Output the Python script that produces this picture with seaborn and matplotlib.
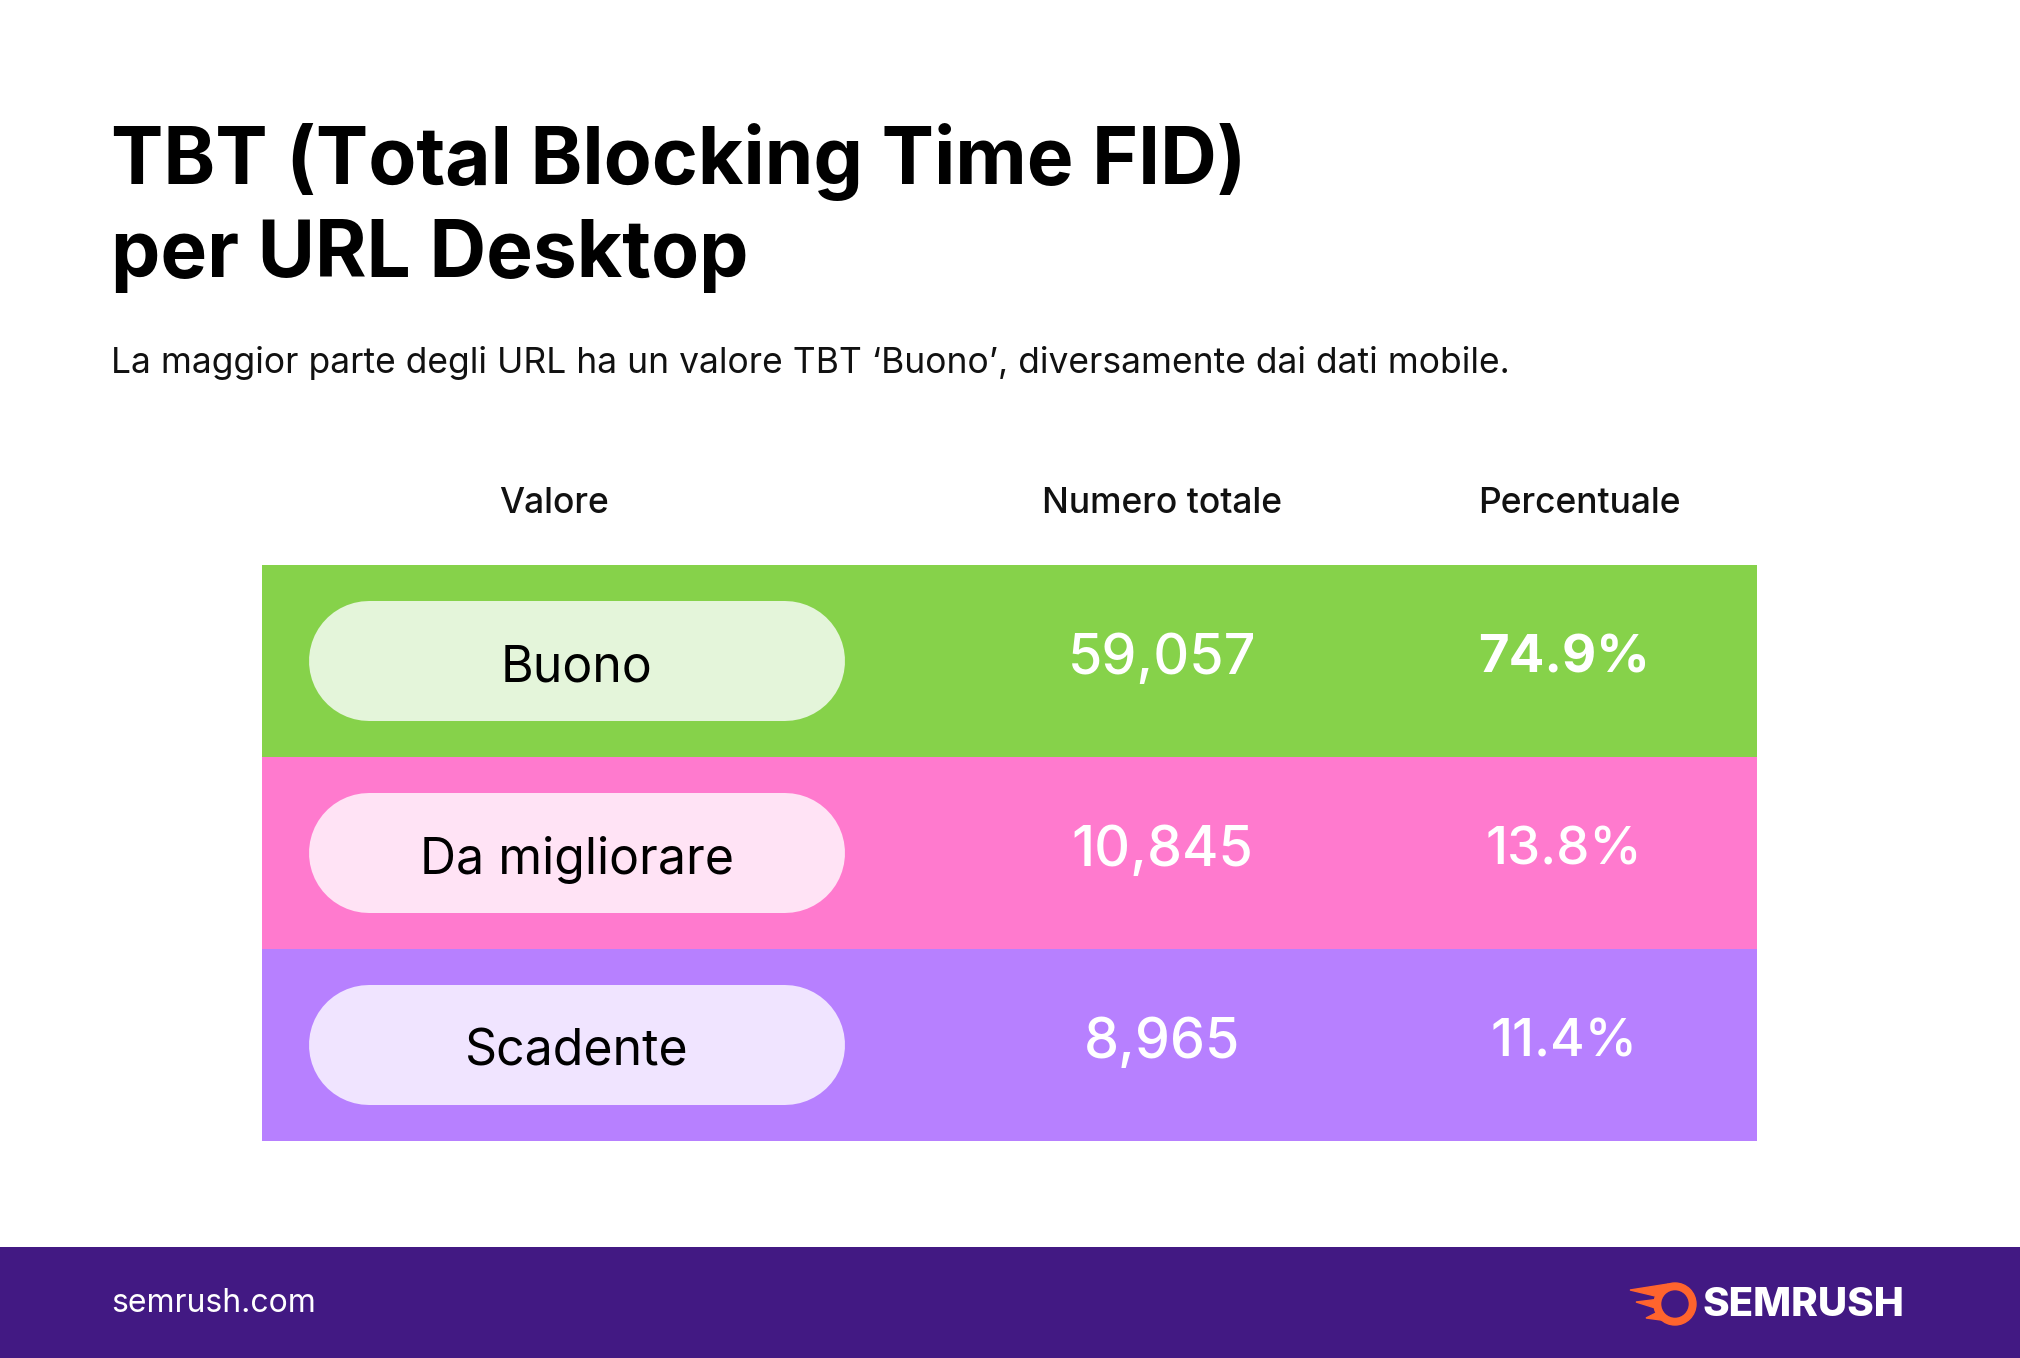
import matplotlib
matplotlib.use("Agg")
import matplotlib.pyplot as plt
from matplotlib.colors import ListedColormap
from matplotlib.patches import Circle, Polygon
import numpy as np
import seaborn as sns

sns.set_theme(style="white")
plt.rcParams["font.family"] = ["Inter", "DejaVu Sans"]

W, H = 2020, 1358

title_lines = ["TBT (Total Blocking Time FID)", "per URL Desktop"]
subtitle = "La maggior parte degli URL ha un valore TBT \u2018Buono\u2019, diversamente dai dati mobile."
headers = ["Valore", "Numero totale", "Percentuale"]
categories = ["Buono", "Da migliorare", "Scadente"]
totals = ["59,057", "10,845", "8,965"]
percents = ["74.9%", "13.8%", "11.4%"]
row_colors = ["#86d24a", "#ff7ace", "#b780ff"]
pill_colors = ["#e4f5da", "#ffe3f5", "#f0e4ff"]


def fx(x):
    return x / W


def fy(y):
    return 1 - y / H


fig = plt.figure(figsize=(W / 100, H / 100), dpi=100)
fig.patch.set_facecolor("white")

# title and subtitle
fig.text(fx(111), fy(184), title_lines[0], fontsize=56.5, fontweight="bold", color="#000000", va="baseline")
fig.text(fx(111), fy(277), title_lines[1], fontsize=56.5, fontweight="bold", color="#000000", va="baseline")
fig.text(fx(111), fy(373), subtitle, fontsize=25.5, color="#111111", va="baseline")

# table body as a one-column heatmap, one colour per row
left, right, top, bottom = 262, 1757, 565, 1141
ax = fig.add_axes([fx(left), fy(bottom), fx(right - left), (bottom - top) / H])
codes = np.arange(len(categories)).reshape(-1, 1)
sns.heatmap(codes, cmap=ListedColormap(row_colors), cbar=False, ax=ax,
            xticklabels=False, yticklabels=False, linewidths=0)
ax.set_xlim(0, 1)
ax.set_ylim(len(categories), 0)
for s in ax.spines.values():
    s.set_visible(False)

col_x = [0.195, 0.602, 0.881]
for x, h in zip(col_x, headers):
    ax.text(x, -0.27, h, fontsize=25.5, ha="center", va="baseline", color="#111111", fontweight="medium")

pill_lw = 120 * 72 / 100
for i, (cat, tot, pct) in enumerate(zip(categories, totals, percents)):
    yc = i + 0.5
    ax.plot([0.0716, 0.350], [yc, yc], color=pill_colors[i], lw=pill_lw,
            solid_capstyle="round", zorder=3)
    ax.text(0.2107, yc + 0.035, cat, fontsize=36, ha="center", va="center",
            color="#000000", zorder=4)
    ax.text(0.602, yc - 0.01, tot, fontsize=40, ha="center", va="center",
            color="white", fontweight="medium", zorder=4)
    ax.text(0.871, yc - 0.01, pct, fontsize=38, ha="center", va="center",
            color="white", fontweight="bold" if i == 0 else "medium", zorder=4)

# footer band
fax = fig.add_axes([0, 0, 1, (H - 1247) / H])
fax.set_facecolor("#421983")
fax.set_xticks([])
fax.set_yticks([])
for s in fax.spines.values():
    s.set_visible(False)
fax.text(111, 1304, "semrush.com", fontsize=23, color="white", va="center", ha="left")

# logo: flame + ring + wordmark
orange = "#ff642d"
fax.add_patch(Polygon([[1630, 1290], [1668, 1284], [1672, 1300]], closed=True, color=orange))
fax.add_patch(Polygon([[1636, 1302], [1668, 1298], [1668, 1312]], closed=True, color=orange))
fax.add_patch(Polygon([[1646, 1318], [1670, 1306], [1676, 1322]], closed=True, color=orange))
fax.add_patch(Circle((1675, 1304), 21, color=orange))
fax.add_patch(Circle((1675, 1304), 13, color="#421983"))
fax.text(1703, 1305, "SEMRUSH", fontsize=29, color="white", fontweight="heavy",
         va="center", ha="left")
fax.set_aspect("equal")
fax.set_xlim(0, W)
fax.set_ylim(H, 1247)

fig.savefig("out.png", dpi=100, facecolor=fig.get_facecolor())
